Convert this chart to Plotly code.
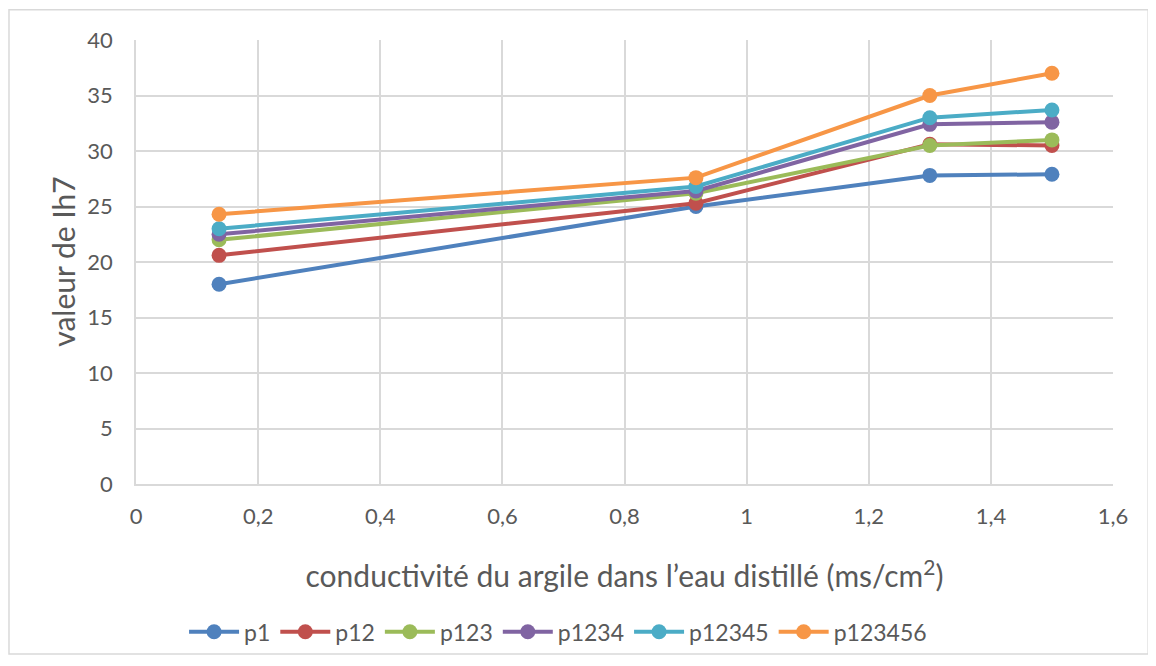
import plotly.graph_objects as go

# conductivité (ms/cm2)
conductivite = [0.136, 0.917, 1.30, 1.50]

series_names = ["p1", "p12", "p123", "p1234", "p12345", "p123456"]
p1 = [18.0, 25.0, 27.8, 27.9]
p12 = [20.6, 25.3, 30.6, 30.5]
p123 = [22.0, 26.2, 30.5, 31.0]
p1234 = [22.5, 26.4, 32.4, 32.6]
p12345 = [23.0, 26.8, 33.0, 33.7]
p123456 = [24.3, 27.6, 35.0, 37.0]

colors = ["#4F81BD", "#C0504D", "#9BBB59", "#8064A2", "#4BACC6", "#F79646"]

fig = go.Figure()
for name, vals, col in zip(series_names, [p1, p12, p123, p1234, p12345, p123456], colors):
    fig.add_trace(go.Scatter(
        x=conductivite, y=vals, name=name, mode="lines+markers",
        line=dict(color=col, width=4),
        marker=dict(color=col, size=15),
    ))

font_family = "Lato, 'Open Sans', sans-serif"
grid = "#d9d9d9"

# la page html ajoute 8px de marge au body
fig.update_layout(
    width=1156, height=666,
    paper_bgcolor="white", plot_bgcolor="white",
    separators=", ",
    margin=dict(l=128, r=51, t=32, b=190),
    font=dict(family=font_family, color="#595959", size=22),
    showlegend=True,
    legend=dict(
        orientation="h", x=0.432, xanchor="center", y=-0.333, yanchor="middle",
        font=dict(size=23, color="#595959"), itemwidth=50,
    ),
    xaxis=dict(
        range=[0, 1.6], dtick=0.2, tick0=0,
        showgrid=True, gridcolor=grid, gridwidth=1.5,
        showline=True, linecolor=grid, linewidth=1.5,
        zeroline=False, ticks="", ticklabelstandoff=12,
        title=dict(
            text="conductivité du argile dans l’eau distillé (ms/cm<sup>2</sup>)",
            font=dict(size=30, color="#595959"), standoff=38,
        ),
    ),
    yaxis=dict(
        range=[0, 40], dtick=5,
        showgrid=True, gridcolor=grid, gridwidth=1.5,
        showline=True, linecolor=grid, linewidth=1.5,
        zeroline=False, ticks="", ticklabelstandoff=17,
    ),
    annotations=[dict(
        text="valeur de Ih7", xref="paper", yref="paper",
        x=-0.075, y=0.5, xanchor="center", yanchor="middle",
        textangle=-90, showarrow=False,
        font=dict(size=30, color="#595959"),
    )],
    shapes=[dict(
        type="rect", xref="paper", yref="paper",
        x0=-0.13, x1=1.036, y0=-0.383, y1=1.068,
        line=dict(color="#d9d9d9", width=1.5), fillcolor="rgba(0,0,0,0)",
        layer="below",
    )],
)

fig.write_html("out.html")
